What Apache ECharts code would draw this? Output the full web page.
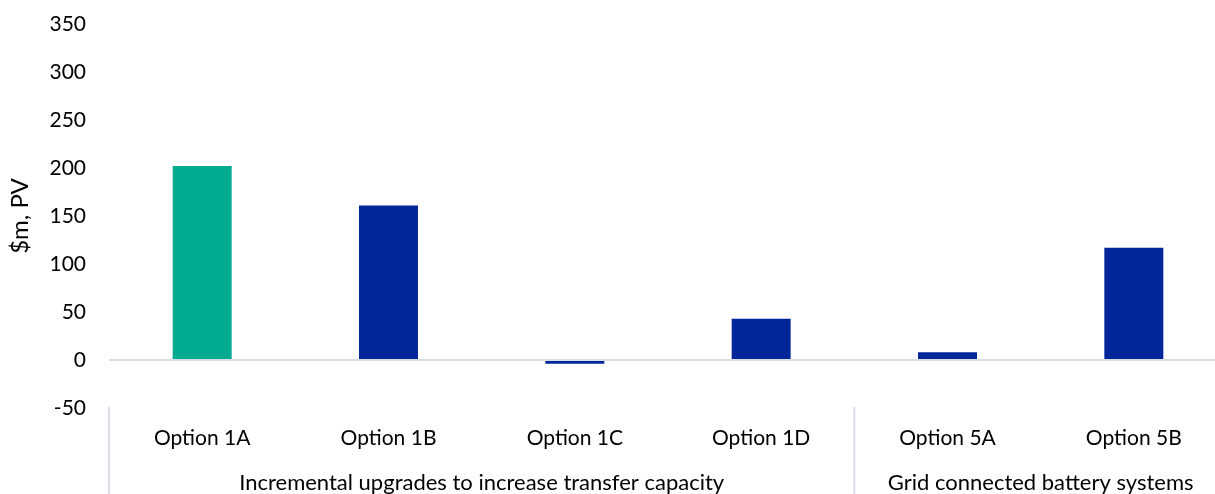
<!DOCTYPE html>
<html><head><meta charset="utf-8">
<script src="https://cdn.jsdelivr.net/npm/echarts@6/dist/echarts.min.js"></script>
<style>html,body{margin:0;padding:0;background:#fff;overflow:hidden;width:1215px;height:494px}#c{width:1227px;height:494px}</style>
</head><body><div id="c"></div>
<script>
const categories = ['Option 1A', 'Option 1B', 'Option 1C', 'Option 1D', 'Option 5A', 'Option 5B'];
const values = [202, 161, -4, 43, 8, 117];
const barColors = ['#00AB8F', '#00269A', '#00269A', '#00269A', '#00269A', '#00269A'];
const groupNames = ['Incremental upgrades to increase transfer capacity', 'Grid connected battery systems'];
const groupStart = [0, 4];
const groupEnd = [3, 5];
const yMin = -50, yMax = 350, yInterval = 50;
const yName = '$m, PV';

const FONT = 'Lato';
const TXT = '#000000';
const LINE = '#D9DEE6';

const chart = echarts.init(document.getElementById('c'), null, {renderer: 'canvas'});
chart.setOption({
  animation: false,
  backgroundColor: '#ffffff',
  grid: {left: 104, right: 0, top: 24, bottom: 86, containLabel: false},
  xAxis: {
    type: 'category',
    data: categories,
    axisLine: {show: false},
    axisTick: {show: false},
    axisLabel: {color: TXT, fontFamily: FONT, fontSize: 21, margin: 20},
    splitLine: {show: false}
  },
  yAxis: {
    type: 'value',
    min: yMin, max: yMax, interval: yInterval,
    name: yName,
    nameLocation: 'middle',
    nameGap: 77,
    nameTextStyle: {color: TXT, fontFamily: FONT, fontSize: 24},
    axisLine: {show: false},
    axisTick: {show: false},
    axisLabel: {color: TXT, fontFamily: FONT, fontSize: 21, margin: 23},
    splitLine: {show: false}
  },
  series: [{
    type: 'bar',
    barWidth: 59,
    data: values.map((v, i) => ({value: v, itemStyle: {color: barColors[i]}})),
    markLine: {
      silent: true,
      symbol: 'none',
      label: {show: false},
      lineStyle: {color: LINE, width: 2, type: 'solid'},
      data: [{yAxis: 0}]
    }
  }]
});

function drawGroups() {
  const c0 = chart.convertToPixel({xAxisIndex: 0}, 0);
  const c1 = chart.convertToPixel({xAxisIndex: 0}, 1);
  const band = c1 - c0;
  const bottomY = chart.convertToPixel({yAxisIndex: 0}, yMin);
  const elems = [];
  groupNames.forEach((name, g) => {
    const left = chart.convertToPixel({xAxisIndex: 0}, groupStart[g]) - band / 2;
    const right = chart.convertToPixel({xAxisIndex: 0}, groupEnd[g]) + band / 2;
    elems.push({
      type: 'line', silent: true,
      shape: {x1: left, y1: bottomY - 1, x2: left, y2: 494},
      style: {stroke: LINE, lineWidth: 2}
    });
    elems.push({
      type: 'text', silent: true,
      x: (left + right) / 2, y: bottomY + 75,
      style: {text: name, fill: TXT, font: '22px ' + FONT, align: 'center', verticalAlign: 'middle'}
    });
  });
  chart.setOption({graphic: elems});
}
drawGroups();
</script>
</body></html>
